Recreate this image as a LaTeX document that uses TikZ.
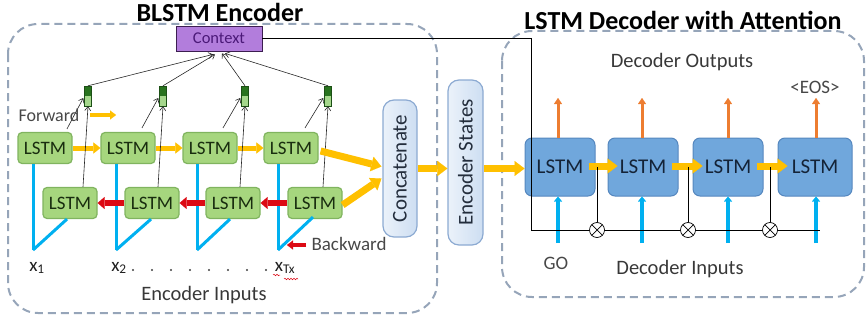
\documentclass[tikz,border=0pt]{standalone}
\usepackage{fontspec}
\setmainfont{Carlito}
\usetikzlibrary{arrows.meta,calc,decorations.pathmorphing}
\definecolor{lgreen}{RGB}{166,214,126}
\definecolor{lgreenb}{RGB}{128,180,95}
\definecolor{encText}{RGB}{25,45,15}
\definecolor{dblue}{RGB}{112,167,220}
\definecolor{dblueb}{RGB}{85,135,190}
\definecolor{decText}{RGB}{20,35,55}
\definecolor{gold}{RGB}{255,192,0}
\definecolor{orng}{RGB}{237,125,49}
\definecolor{cyanb}{RGB}{0,176,240}
\definecolor{redb}{RGB}{220,10,20}
\definecolor{dashc}{RGB}{150,165,185}
\definecolor{pillf}{RGB}{205,222,242}
\definecolor{pillb}{RGB}{140,170,210}
\definecolor{pillText}{RGB}{35,45,60}
\definecolor{ctxf}{RGB}{178,125,220}
\definecolor{ctxb}{RGB}{60,30,80}
\definecolor{ctxt}{RGB}{75,25,120}
\definecolor{darkcell}{RGB}{40,115,30}
\definecolor{lightcell}{RGB}{165,215,140}
\tikzset{
  encbox/.style={draw=lgreenb, line width=1.2pt, fill=lgreen, rounded corners=4pt,
    minimum width=54pt, minimum height=31pt, inner sep=0pt, text=encText,
    font=\fontsize{19}{19}\selectfont},
  decbox/.style={draw=dblueb, line width=1pt, fill=dblue, rounded corners=7pt,
    minimum width=70pt, minimum height=58pt, inner sep=0pt, text=decText,
    font=\fontsize{21}{21}\selectfont},
  pill/.style={draw=pillb, line width=1.2pt, left color=pillf!40!white, right color=pillf,
    rounded corners=11pt, inner sep=0pt},
  pilltext/.style={rotate=90, font=\fontsize{21}{21}\selectfont, text=pillText},
  cell/.style={draw=darkcell!70!black, line width=0.4pt, fill=lightcell,
    minimum width=7pt, minimum height=20pt, inner sep=0pt,
    path picture={\fill[darkcell] (path picture bounding box.north west)
      rectangle (path picture bounding box.east);}},
  ctxbox/.style={draw=ctxb, line width=0.8pt, fill=ctxf, minimum width=86pt,
    minimum height=25pt, inner sep=0pt, text=ctxt, font=\fontsize{16.5}{16.5}\selectfont},
  thinarr/.style={-{Straight Barb[length=4pt,width=6pt]}, line width=0.6pt, black!85},
  fwdarr/.style={gold, line width=5pt, -{Triangle[length=7pt,width=11pt,line width=0.1pt]}},
  bwdarr/.style={redb, line width=6pt, -{Triangle[length=7pt,width=12pt,line width=0.1pt]}},
  bigarr/.style={gold, line width=7pt, -{Triangle[length=10pt,width=15pt,line width=0.1pt]}},
  outarr/.style={orng, line width=3pt, -{Triangle[length=6pt,width=8pt,line width=0.1pt]}},
  inarr/.style={cyanb, line width=4pt, -{Triangle[length=5pt,width=8pt,line width=0.1pt]}},
  inline/.style={cyanb, line width=3pt},
  groupbox/.style={draw=dashc, line width=2pt, dash pattern=on 8pt off 5pt, rounded corners=30pt},
  mult/.style={circle, draw, fill=white, line width=0.7pt, minimum size=15pt, inner sep=0pt,
    path picture={\draw[line width=0.7pt] (path picture bounding box.south west)
      -- (path picture bounding box.north east)
      (path picture bounding box.north west) -- (path picture bounding box.south east);}},
  headline/.style={font=\fontsize{26}{26}\selectfont\bfseries},
  greylabel/.style={text=black!78, font=\fontsize{20.5}{20.5}\selectfont},
  smalllabel/.style={text=black!72, font=\fontsize{18}{18}\selectfont},
}
\begin{document}
\begin{tikzpicture}[x=1pt,y=-1pt]
\useasboundingbox (0,0) rectangle (866,321);

% group frames and headings
\draw[groupbox] (8,24) rectangle (437,313);
\draw[groupbox] (502,31) rectangle (864,297);
\node[headline] at (220,12) {BLSTM Encoder};
\node[headline] at (683,20) {LSTM Decoder with Attention};

% encoder cells
\foreach \i/\fx/\bx in {1/45/70, 2/128/152, 3/210/233, 4/291/315}{
  \node[encbox] (f\i) at (\fx,148) {LSTM};
  \node[encbox] (b\i) at (\bx,203) {LSTM};
}
\foreach \i/\cx in {1/88, 2/163, 3/245, 4/328}{
  \node[cell] (c\i) at (\cx,96) {};
}
\node[ctxbox] (ctx) at (219,38.5) {Context};

% encoder inputs
\foreach \i/\ix in {1/33, 2/116, 3/197, 4/278}{
  \coordinate (in\i) at (\ix,250);
  \draw[inline] (in\i) -- (in\i |- f\i.south);
}
\draw[inline] (in1) -- ($(b1.south)+(-3,0)$);
\draw[inline] (in2) -- ($(b2.south)+(-1,0)$);
\draw[inline] (in3) -- ($(b3.south)+(-3,0)$);
\draw[inline] (in4) -- ($(b4.south)+(-2,-2)$);

% forward and backward recurrences
\draw[fwdarr] (f1.east) -- (f2.west);
\draw[fwdarr] (f2.east) -- (f3.west);
\draw[fwdarr] (f3.east) -- (f4.west);
\draw[bwdarr] (b2.west) -- (b1.east);
\draw[bwdarr] (b3.west) -- (b2.east);
\draw[bwdarr] (b4.west) -- (b3.east);

% states into the concatenated cells
\draw[thinarr] ($(f1.north)+(22,-3)$) -- ($(c1.west)+(-1,2)$);
\draw[thinarr] ($(f2.north)+(14,-4)$) -- ($(c2.west)+(-1,2)$);
\draw[thinarr] ($(f3.north)+(13,-4)$) -- ($(c3.west)+(-1,2)$);
\draw[thinarr] ($(f4.north)+(14,-4)$) -- ($(c4.west)+(-1,2)$);
\draw[thinarr] ($(b1.north)+(13,0)$) -- (c1.south);
\draw[thinarr] ($(b2.north)+(6,0)$) -- (c2.south);
\draw[thinarr] ($(b3.north)+(7,0)$) -- (c3.south);
\draw[thinarr] ($(b4.north)+(8,0)$) -- (c4.south);

% cells into the context
\draw[thinarr] (c1.north) -- ($(ctx.south)+(-6,3)$);
\draw[thinarr] (c2.north) -- ($(ctx.south)+(-4,3)$);
\draw[thinarr] (c3.north) -- ($(ctx.south)+(3,2)$);
\draw[thinarr] (c4.north) -- ($(ctx.south)+(6,2)$);

% input labels
\node[smalllabel, text=black!88, font=\fontsize{19}{19}\selectfont] at (37,268) {x\textsubscript{1}};
\node[smalllabel, text=black!88, font=\fontsize{19}{19}\selectfont] at (119,268) {x\textsubscript{2}};
\node[smalllabel, text=black!88, font=\fontsize{19}{19}\selectfont] (xt) at (285,268) {x\textsubscript{Tx}};
\foreach \dx in {133,152,171,190,209,228,247,266}{
  \fill[black!75] (\dx,270) circle (1.2);
}
\draw[redb, line width=0.5pt, decorate, decoration={snake, amplitude=0.8pt, segment length=3pt}]
  (284,279) -- (298,279);
\draw[redb, line width=0.5pt, decorate, decoration={snake, amplitude=0.8pt, segment length=3pt}]
  (273,275) -- (280,275);
\node[greylabel] at (204,295) {Encoder Inputs};

% direction legends
\node[smalllabel] (fw) at (49,115) {Forward};
\coordinate (fwa) at (90,115);
\coordinate (fwb) at (116,115);
\draw[gold, line width=4pt, -{Triangle[length=6pt,width=9pt,line width=0.1pt]}] (fwa) -- (fwb);
\node[smalllabel, anchor=west, font=\fontsize{19}{19}\selectfont] (bw) at (308,244) {Backward};
\coordinate (bwa) at (306,245);
\coordinate (bwb) at (287,245);
\draw[redb, line width=4pt, -{Triangle[length=6pt,width=9pt,line width=0.1pt]}] (bwa) -- (bwb);

% concatenation and encoder states
\node[pill, minimum width=34pt, minimum height=137pt] (cc) at (400,168.5) {};
\node[pilltext] at (cc) {Concatenate};
\node[pill, minimum width=35pt, minimum height=165pt] (es) at (465.5,162.5) {};
\node[pilltext] at (es) {Encoder States};

% decoder cells
\node[decbox] (d1) at (560,167) {LSTM};
\node[decbox] (d2) at (643,167) {LSTM};
\node[decbox] (d3) at (728,167) {LSTM};
\node[decbox, minimum width=74pt] (d4) at (815,167) {LSTM};

\draw[bigarr] ($(f4.east)+(2,3)$) -- ($(cc.west)+(-1,-2)$);
\draw[bigarr] ($(b4.east)+(0,2)$) -- ($(cc.west)+(-1,10)$);
\draw[bigarr] (cc.east) -- (es.west |- cc.east);
\draw[bigarr] (es.east |- cc.east) -- (d1.west |- cc.east);

\draw[bigarr] ($(d1.east)+(-7,-1)$) -- ($(d2.west)+(10,-1)$);
\draw[bigarr] ($(d2.east)+(-7,-1)$) -- ($(d3.west)+(10,-1)$);
\draw[bigarr] ($(d3.east)+(-7,-1)$) -- ($(d4.west)+(10,-1)$);

% decoder outputs and inputs
\foreach \i/\dx in {1/558, 2/642, 3/728, 4/816}{
  \coordinate (o\i) at (\dx,98);
  \coordinate (g\i) at (\dx,243);
  \draw[outarr] (d\i.north -| o\i) -- (o\i);
  \draw[inarr] (g\i) -- (d\i.south -| g\i);
}
\node[greylabel] at (682,62) {Decoder Outputs};
\node[smalllabel, font=\fontsize{19}{19}\selectfont] at (815,87) {<EOS>};
\node[smalllabel, font=\fontsize{19}{19}\selectfont] at (556,263) {GO};
\node[greylabel] at (680,269) {Decoder Inputs};

% attention: context routed to the decoder steps
\coordinate (cr) at (531,230);
\coordinate (cend) at (820,230);
\draw[line width=0.7pt] (ctx.east) -| (cr) -- (cend);
\foreach \i/\mx in {1/597, 2/688, 3/770}{
  \node[mult] (m\i) at (\mx,230) {};
  \draw[line width=0.7pt] (m\i |- d1.center) -- (m\i.north);
}
\end{tikzpicture}
\end{document}
